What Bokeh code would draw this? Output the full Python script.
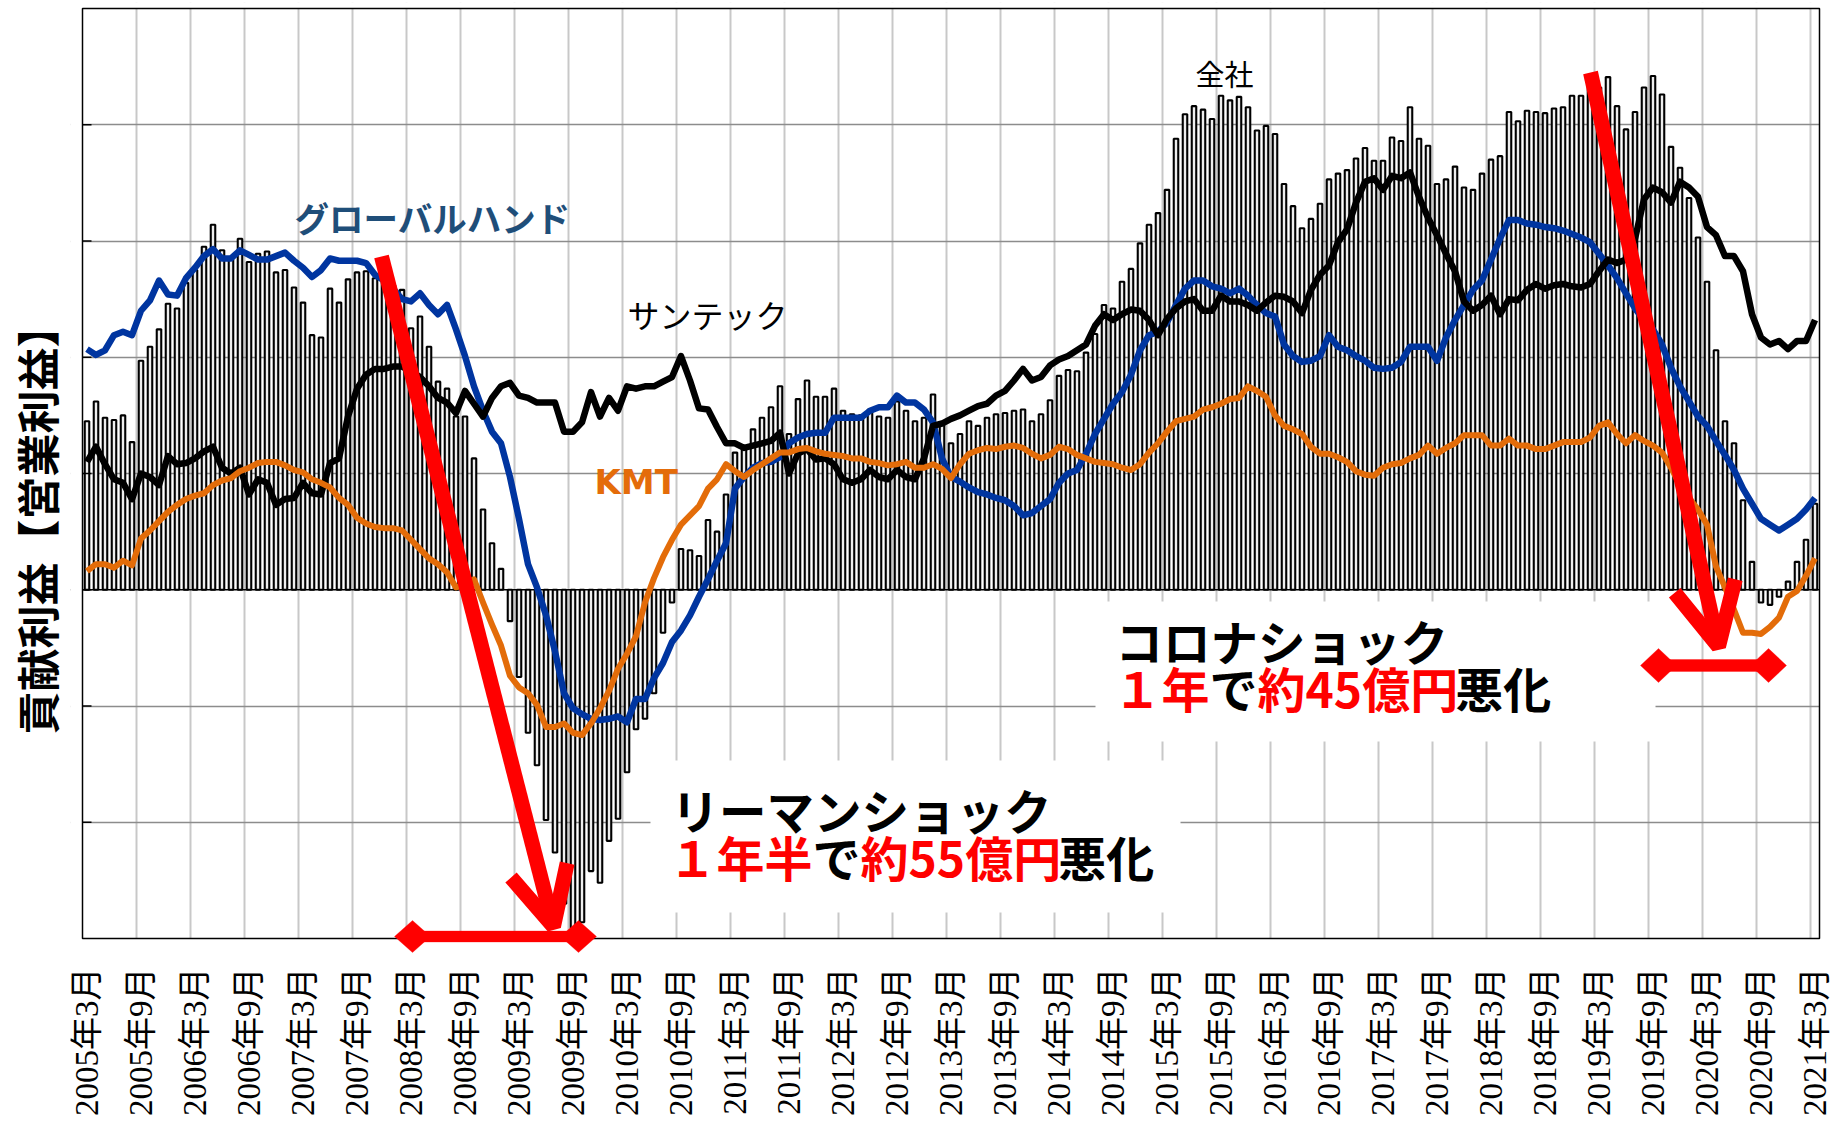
import math
from bokeh.plotting import figure
from bokeh.models import (Range1d, FixedTicker, Label, Arrow, OpenHead,
                          PolyAnnotation, Span, ColumnDataSource)
from bokeh.core.properties import value
from bokeh.embed import file_html
from bokeh.resources import INLINE

# ---------------- data ----------------
tick_labels = [
    "2005年3月", "2005年9月", "2006年3月", "2006年9月", "2007年3月", "2007年9月",
    "2008年3月", "2008年9月", "2009年3月", "2009年9月", "2010年3月", "2010年9月",
    "2011年3月", "2011年9月", "2012年3月", "2012年9月", "2013年3月", "2013年9月",
    "2014年3月", "2014年9月", "2015年3月", "2015年9月", "2016年3月", "2016年9月",
    "2017年3月", "2017年9月", "2018年3月", "2018年9月", "2019年3月", "2019年9月",
    "2020年3月", "2020年9月", "2021年3月",
]

# 全社 (bars), monthly 2005/03 .. 2021/03
zensha = [
    1.45, 1.62, 1.48, 1.46, 1.50, 1.27, 1.97, 2.09, 2.24, 2.46, 2.42, 2.64,
    2.75, 2.95, 3.14, 2.92, 2.84, 3.02, 2.82, 2.89, 2.91, 2.73, 2.75, 2.60,
    2.47, 2.19, 2.17, 2.59, 2.47, 2.67, 2.73, 2.74, 2.68, 2.70, 2.62, 2.58,
    2.25, 2.35, 2.09, 1.79, 1.73, 1.49, 1.49, 1.13, 0.69, 0.40, 0.18, -0.27,
    -0.75, -1.23, -1.51, -1.98, -2.26, -2.70, -2.91, -2.86, -2.42, -2.52, -2.16, -1.97,
    -1.57, -1.20, -1.11, -0.89, -0.37, -0.11, 0.35, 0.34, 0.29, 0.60, 0.50, 0.82,
    1.18, 1.21, 1.38, 1.48, 1.57, 1.75, 1.34, 1.64, 1.80, 1.66, 1.66, 1.73,
    1.54, 1.51, 1.50, 1.55, 1.49, 1.48, 1.62, 1.54, 1.45, 1.48, 1.68, 1.44,
    1.26, 1.34, 1.45, 1.41, 1.48, 1.51, 1.52, 1.54, 1.55, 1.45, 1.51, 1.63,
    1.84, 1.89, 1.88, 2.04, 2.20, 2.45, 2.42, 2.65, 2.76, 2.98, 3.14, 3.24,
    3.44, 3.88, 4.09, 4.16, 4.13, 4.05, 4.25, 4.21, 4.24, 4.15, 3.95, 3.99,
    3.92, 3.49, 3.30, 3.11, 3.19, 3.32, 3.53, 3.58, 3.61, 3.71, 3.80, 3.69,
    3.69, 3.89, 3.86, 4.15, 3.88, 3.82, 3.49, 3.53, 3.64, 3.46, 3.44, 3.58,
    3.70, 3.73, 4.11, 4.03, 4.12, 4.11, 4.10, 4.14, 4.15, 4.25, 4.25, 4.39,
    4.32, 4.41, 4.16, 3.96, 4.11, 4.32, 4.42, 4.26, 3.81, 3.63, 3.37, 3.03,
    2.65, 2.06, 1.45, 1.26, 0.77, 0.24, -0.11, -0.13, -0.06, 0.07, 0.24, 0.43,
    0.74,
]

# グローバルハンド (blue line)
global_hand = [
    2.07, 2.02, 2.06, 2.19, 2.22, 2.19, 2.40, 2.49, 2.66, 2.54, 2.53, 2.68,
    2.77, 2.87, 2.93, 2.85, 2.85, 2.92, 2.88, 2.84, 2.84, 2.87, 2.90, 2.83,
    2.77, 2.69, 2.75, 2.85, 2.83, 2.83, 2.83, 2.81, 2.71, 2.66, 2.59, 2.50,
    2.48, 2.55, 2.45, 2.37, 2.45, 2.24, 2.01, 1.75, 1.54, 1.36, 1.26, 0.97,
    0.61, 0.22, 0.02, -0.22, -0.53, -0.89, -1.02, -1.07, -1.11, -1.12, -1.11, -1.09,
    -1.14, -0.94, -0.94, -0.76, -0.63, -0.45, -0.35, -0.22, -0.06, 0.09, 0.25, 0.40,
    0.87, 0.97, 1.05, 1.09, 1.10, 1.14, 1.26, 1.31, 1.34, 1.35, 1.35, 1.48,
    1.48, 1.48, 1.48, 1.54, 1.57, 1.57, 1.67, 1.61, 1.61, 1.55, 1.44, 1.13,
    0.97, 0.93, 0.88, 0.84, 0.82, 0.79, 0.77, 0.72, 0.64, 0.66, 0.72, 0.78,
    0.92, 1.00, 1.03, 1.17, 1.34, 1.47, 1.60, 1.70, 1.85, 2.06, 2.19, 2.22,
    2.30, 2.45, 2.59, 2.66, 2.66, 2.61, 2.59, 2.55, 2.59, 2.53, 2.45, 2.38,
    2.35, 2.11, 2.01, 1.96, 1.97, 2.01, 2.19, 2.09, 2.06, 2.01, 1.97, 1.91,
    1.90, 1.91, 1.96, 2.09, 2.09, 2.09, 1.97, 2.17, 2.32, 2.45, 2.58, 2.66,
    2.84, 3.02, 3.18, 3.18, 3.15, 3.14, 3.12, 3.11, 3.09, 3.06, 3.03, 2.99,
    2.89, 2.79, 2.68, 2.55, 2.42, 2.32, 2.24, 2.11, 1.91, 1.75, 1.62, 1.49,
    1.41, 1.28, 1.16, 1.03, 0.87, 0.74, 0.61, 0.56, 0.51, 0.56, 0.61, 0.69,
    0.79,
]

# サンテック (black line)
suntec = [
    1.10, 1.23, 1.08, 0.95, 0.92, 0.78, 1.00, 0.97, 0.90, 1.15, 1.08, 1.09,
    1.13, 1.19, 1.23, 1.05, 1.00, 1.05, 0.82, 0.95, 0.92, 0.73, 0.78, 0.79,
    0.92, 0.83, 0.82, 1.09, 1.13, 1.49, 1.73, 1.85, 1.90, 1.90, 1.92, 1.92,
    1.88, 1.83, 1.75, 1.65, 1.61, 1.52, 1.71, 1.60, 1.49, 1.65, 1.75, 1.78,
    1.67, 1.65, 1.61, 1.61, 1.61, 1.36, 1.36, 1.44, 1.70, 1.49, 1.65, 1.54,
    1.75, 1.73, 1.75, 1.75, 1.79, 1.83, 2.01, 1.80, 1.56, 1.55, 1.40, 1.26,
    1.26, 1.22, 1.24, 1.26, 1.28, 1.35, 1.00, 1.17, 1.21, 1.12, 1.13, 1.08,
    0.95, 0.92, 0.95, 1.03, 0.97, 0.95, 1.03, 0.97, 0.95, 1.13, 1.41, 1.43,
    1.47, 1.50, 1.54, 1.58, 1.60, 1.67, 1.71, 1.80, 1.90, 1.80, 1.83, 1.93,
    1.98, 2.01, 2.06, 2.11, 2.27, 2.37, 2.32, 2.37, 2.41, 2.40, 2.32, 2.19,
    2.33, 2.42, 2.48, 2.50, 2.40, 2.40, 2.53, 2.48, 2.48, 2.45, 2.40, 2.47,
    2.53, 2.52, 2.48, 2.38, 2.58, 2.71, 2.79, 2.99, 3.10, 3.33, 3.51, 3.54,
    3.44, 3.56, 3.54, 3.59, 3.38, 3.20, 3.05, 2.89, 2.74, 2.48, 2.40, 2.45,
    2.53, 2.37, 2.50, 2.49, 2.58, 2.63, 2.59, 2.62, 2.63, 2.61, 2.60, 2.63,
    2.74, 2.84, 2.81, 2.84, 3.02, 3.36, 3.46, 3.42, 3.33, 3.51, 3.46, 3.38,
    3.12, 3.05, 2.87, 2.87, 2.74, 2.37, 2.17, 2.11, 2.14, 2.07, 2.14, 2.14,
    2.32,
]

# KMT (orange line)
kmt = [
    0.16, 0.22, 0.22, 0.19, 0.25, 0.21, 0.44, 0.51, 0.59, 0.67, 0.73, 0.78,
    0.81, 0.83, 0.90, 0.94, 0.96, 1.02, 1.05, 1.09, 1.10, 1.10, 1.07, 1.03,
    1.01, 0.95, 0.92, 0.88, 0.79, 0.73, 0.62, 0.57, 0.54, 0.53, 0.53, 0.51,
    0.43, 0.35, 0.27, 0.22, 0.15, 0.02, 0.04, 0.09, -0.11, -0.30, -0.48, -0.74,
    -0.84, -0.89, -0.99, -1.18, -1.18, -1.15, -1.23, -1.25, -1.15, -1.02, -0.87, -0.68,
    -0.55, -0.40, -0.11, 0.10, 0.28, 0.43, 0.56, 0.64, 0.72, 0.87, 0.95, 1.08,
    1.02, 0.97, 1.03, 1.08, 1.13, 1.18, 1.18, 1.21, 1.22, 1.19, 1.17, 1.16,
    1.15, 1.13, 1.13, 1.10, 1.09, 1.07, 1.08, 1.10, 1.05, 1.05, 1.08, 1.04,
    0.96, 1.08, 1.17, 1.20, 1.22, 1.21, 1.23, 1.24, 1.22, 1.17, 1.13, 1.16,
    1.23, 1.21, 1.16, 1.13, 1.10, 1.09, 1.08, 1.05, 1.03, 1.08, 1.18, 1.26,
    1.36, 1.45, 1.47, 1.49, 1.55, 1.57, 1.60, 1.64, 1.65, 1.75, 1.71, 1.66,
    1.50, 1.41, 1.38, 1.34, 1.23, 1.17, 1.17, 1.14, 1.10, 1.02, 0.99, 0.98,
    1.05, 1.08, 1.09, 1.13, 1.16, 1.24, 1.17, 1.22, 1.26, 1.33, 1.33, 1.33,
    1.24, 1.24, 1.30, 1.24, 1.24, 1.21, 1.21, 1.24, 1.27, 1.27, 1.27, 1.31,
    1.41, 1.44, 1.34, 1.26, 1.33, 1.28, 1.24, 1.18, 1.05, 0.90, 0.79, 0.69,
    0.56, 0.20, 0.02, -0.17, -0.37, -0.37, -0.38, -0.32, -0.24, -0.06, -0.01, 0.12,
    0.27,
]

month_idx = list(range(len(zensha)))
label_step = 6

# ---------------- layout helpers (page pixel -> data) ----------------
W, H = 1832, 1122
PLOT_L, PLOT_R, PLOT_T, PLOT_B = 82, 1819, 8, 938   # visible plot box
FRAME_L, FRAME_T = 70, 2                             # drawing area is larger
X0, X1 = -0.5, len(zensha) - 0.5
YB, Y1 = -3, 5
PXX = (PLOT_R - PLOT_L) / (X1 - X0)
PXY = (PLOT_B - PLOT_T) / (Y1 - YB)
XF0 = X0 - (PLOT_L - FRAME_L) / PXX
XF1 = X1 + (W - PLOT_R) / PXX
YF1 = Y1 + (PLOT_T - FRAME_T) / PXY
YF0 = YB - (H - PLOT_B) / PXY


def dx(px):
    return X0 + (px - PLOT_L) / PXX


def dy(py):
    return Y1 - (py - PLOT_T) / PXY


JP = "Noto Sans CJK JP"
RED = "#ff0000"

p = figure(width=W, height=H, x_range=Range1d(XF0, XF1),
           y_range=Range1d(YF0, YF1),
           output_backend="svg", toolbar_location=None,
           min_border_left=FRAME_L, min_border_right=0,
           min_border_top=FRAME_T, min_border_bottom=0)
p.background_fill_color = "white"
p.border_fill_color = "white"
p.outline_line_color = None
p.xaxis.visible = False

# y axis: only the rotated title is used
p.yaxis.ticker = FixedTicker(ticks=[])
p.yaxis.major_label_text_font_size = "0px"
p.yaxis.major_label_standoff = 0
p.yaxis.major_tick_line_color = None
p.yaxis.minor_tick_line_color = None
p.yaxis.axis_line_color = None
p.yaxis.axis_label = "\u3000\u3000貢献利益【営業利益】"
p.yaxis.axis_label_text_font = JP
p.yaxis.axis_label_text_font_style = "bold"
p.yaxis.axis_label_text_font_size = "43px"
p.yaxis.axis_label_text_color = "black"
p.yaxis.axis_label_standoff = 4

# grids
tick_pos = month_idx[::label_step]
p.xgrid.ticker = FixedTicker(ticks=[t - 0.5 for t in tick_pos[1:]])
p.xgrid.grid_line_color = "#c8c8c8"
p.xgrid.grid_line_width = 2
p.ygrid.ticker = FixedTicker(ticks=[v for v in range(YB + 1, Y1) if v != 0])
p.ygrid.grid_line_color = "#8c8c8c"
p.ygrid.grid_line_width = 1.5

p.add_layout(Span(location=0, dimension="width", line_color="black",
                  line_width=1.5, level="underlay"))

# white margins around the plot box, white panels behind the annotation texts
p.quad(left=[XF0 - 1, XF0 - 1, XF0 - 1, X1],
       right=[XF1 + 1, XF1 + 1, X0, XF1 + 1],
       top=[YF1 + 1, YB, Y1, Y1],
       bottom=[Y1, YF0 - 1, YB, YB],
       fill_color="white", line_color=None)
p.quad(left=[dx(650)], right=[dx(1180)], top=[dy(760)], bottom=[dy(912)],
       fill_color="white", line_color=None)
p.quad(left=[dx(1095)], right=[dx(1655)], top=[dy(601)], bottom=[dy(741)],
       fill_color="white", line_color=None)

# bars + lines
src = ColumnDataSource(dict(x=month_idx, zensha=zensha, gh=global_hand,
                            st=suntec, kmt=kmt))
p.vbar(x="x", top="zensha", bottom=0, width=0.5, source=src,
       fill_color="#eeeeee", line_color="black", line_width=2.1)
p.line(x="x", y="gh", source=src, line_color="#0035a0", line_width=6.5,
       line_join="round")
p.line(x="x", y="st", source=src, line_color="black", line_width=6.5,
       line_join="round")
p.line(x="x", y="kmt", source=src, line_color="#e36c09", line_width=6,
       line_join="round")

# plot box and inside ticks of the value axis
p.quad(left=[X0], right=[X1], top=[Y1], bottom=[YB], fill_color=None,
       line_color="black", line_width=1.5)
y_ticks = list(range(YB + 1, Y1))
p.segment(x0=[X0] * len(y_ticks), x1=[X0 + 9 / PXX] * len(y_ticks),
          y0=y_ticks, y1=y_ticks, line_color="black", line_width=1.5)

# month tick labels (vertical, hanging below the box)
p.text(x=tick_pos, y=[dy(967)] * len(tick_pos), text=tick_labels,
       angle=math.pi / 2, text_align="right", text_baseline="middle",
       text_font=value("'Liberation Serif', 'Noto Sans CJK JP'"),
       text_font_size=value("33px"), text_color="black")


def lab(text, px, py, size, color="black", bold=False, align="left", font=JP):
    p.add_layout(Label(x=dx(px), y=dy(py), text=text, text_font=font,
                       text_font_size=f"{size}px", text_color=color,
                       text_font_style="bold" if bold else "normal",
                       text_align=align, text_baseline="middle"))


def text_width(s, size):
    return sum(0.56 if ord(c) < 128 else 1.0 for c in s) * size


def segments(parts, px, py, size):
    x = px
    for txt, col in parts:
        lab(txt, x, py, size, col, bold=True)
        x += text_width(txt, size)


# series labels
lab("グローバルハンド", 294, 216, 34.5, "#1f4e79", bold=True)
lab("サンテック", 627, 313, 32, "black")
lab("KMT", 594, 481, 34, "#e46c0a", bold=True, font="DejaVu Sans")
lab("全社", 1224, 72, 29, "black", align="center")

# shock annotations
lab("リーマンショック", 671, 809, 47.5, "black", bold=True)
segments([("１年半", RED), ("で", "black"), ("約55億円", RED), ("悪化", "black")],
         668, 855, 48)
lab("コロナショック", 1115, 640, 47.5, "black", bold=True)
segments([("１年", RED), ("で", "black"), ("約45億円", RED), ("悪化", "black")],
         1113, 686, 48)

# red arrows
p.add_layout(Arrow(end=OpenHead(size=58, line_color=RED, line_width=15),
                   x_start=dx(381), y_start=dy(256), x_end=dx(553), y_end=dy(926),
                   line_color=RED, line_width=15))
p.add_layout(Arrow(end=OpenHead(size=62, line_color=RED, line_width=15),
                   x_start=dx(1590), y_start=dy(72), x_end=dx(1718), y_end=dy(646),
                   line_color=RED, line_width=15))


def diamond(cx, cy, hw, hh):
    p.add_layout(PolyAnnotation(
        xs=[dx(cx - hw), dx(cx), dx(cx + hw), dx(cx)],
        ys=[dy(cy), dy(cy - hh), dy(cy), dy(cy + hh)],
        fill_color=RED, fill_alpha=1.0, line_color=RED, line_width=1))


def hbar(x1, x2, cy, th):
    p.add_layout(PolyAnnotation(
        xs=[dx(x1), dx(x2), dx(x2), dx(x1)],
        ys=[dy(cy - th / 2), dy(cy - th / 2), dy(cy + th / 2), dy(cy + th / 2)],
        fill_color=RED, fill_alpha=1.0, line_color=RED, line_width=1))


hbar(412, 578, 936, 11)
diamond(412, 936, 18, 16)
diamond(578, 936, 18, 16)
hbar(1658, 1768, 665, 12)
diamond(1658, 665, 18, 17)
diamond(1768, 665, 18, 17)

open("out.html", "w", encoding="utf-8").write(file_html(p, INLINE))
